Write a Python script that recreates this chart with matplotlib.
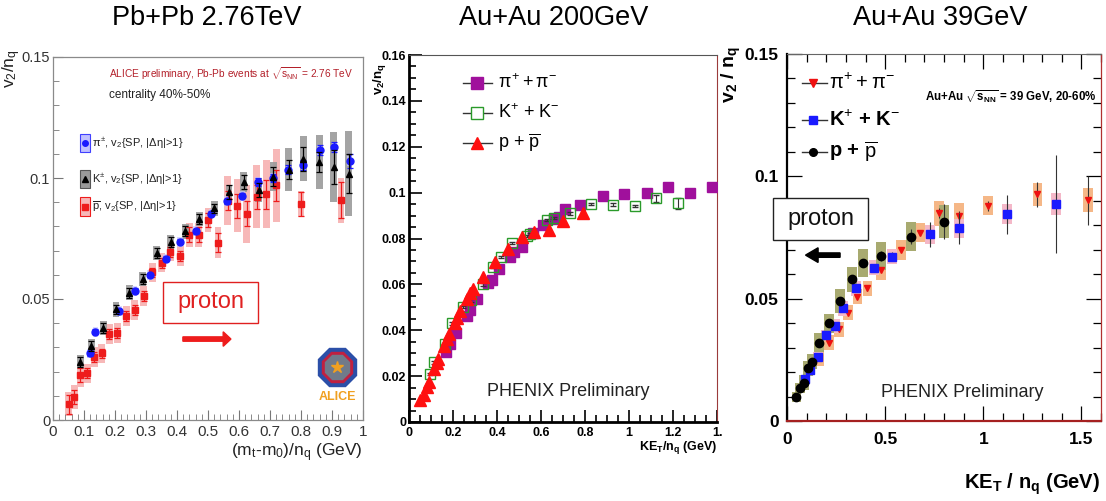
import matplotlib
matplotlib.use("Agg")
import matplotlib.pyplot as plt
from matplotlib.patches import Rectangle, FancyArrow
from matplotlib.ticker import MultipleLocator, FixedLocator, FixedFormatter

plt.rcParams['font.family'] = ['Liberation Sans', 'DejaVu Sans']
plt.rcParams['mathtext.fontset'] = 'custom'
plt.rcParams['mathtext.rm'] = 'Liberation Sans'
plt.rcParams['mathtext.it'] = 'Liberation Sans'
plt.rcParams['mathtext.bf'] = 'Liberation Sans:bold'
NARROW = ['Liberation Sans Narrow', 'Liberation Sans', 'DejaVu Sans']

# ---------------- data: panel 1 (ALICE Pb+Pb 2.76 TeV) ----------------
p1_pi_x = [0.119, 0.137, 0.213, 0.263, 0.3125, 0.363, 0.410, 0.460, 0.511, 0.560,
           0.611, 0.660, 0.709, 0.759, 0.808, 0.860, 0.908, 0.957]
p1_pi_y = [0.0275, 0.0365, 0.045, 0.0534, 0.0599, 0.0667, 0.0736, 0.078, 0.0853, 0.0904,
           0.0926, 0.0984, 0.100, 0.1035, 0.1053, 0.1115, 0.1128, 0.107]
p1_pi_stat = [0.001, 0.001, 0.001, 0.001, 0.001, 0.001, 0.001, 0.001, 0.001, 0.001,
              0.001, 0.0015, 0.0015, 0.002, 0.002, 0.002, 0.002, 0.003]
p1_pi_sys = [0.002] * 18

p1_k_x = [0.088, 0.124, 0.162, 0.203, 0.246, 0.289, 0.334, 0.380, 0.427, 0.472,
          0.520, 0.568, 0.615, 0.664, 0.711, 0.760, 0.808, 0.859, 0.905, 0.954]
p1_k_y = [0.024, 0.0305, 0.038, 0.0457, 0.0526, 0.0583, 0.069, 0.0736, 0.078, 0.083,
          0.0874, 0.0943, 0.0984, 0.095, 0.1005, 0.1035, 0.108, 0.1066, 0.1046, 0.1018]
p1_k_stat = [0.002, 0.002, 0.002, 0.002, 0.002, 0.002, 0.002, 0.002, 0.002, 0.002,
             0.002, 0.003, 0.003, 0.003, 0.004, 0.004, 0.005, 0.004, 0.007, 0.008]
p1_k_sys = [0.003, 0.003, 0.003, 0.003, 0.003, 0.003, 0.003, 0.003, 0.003, 0.003,
            0.003, 0.003, 0.004, 0.005, 0.006, 0.009, 0.0093, 0.011, 0.0145, 0.0175]

p1_p_x = [0.051, 0.069, 0.088, 0.110, 0.133, 0.157, 0.181, 0.207, 0.237, 0.264,
          0.293, 0.320, 0.350, 0.378, 0.410, 0.440, 0.470, 0.500, 0.532, 0.564,
          0.594, 0.625, 0.657, 0.688, 0.720, 0.800, 0.929]
p1_p_y = [0.0065, 0.0096, 0.0186, 0.0193, 0.026, 0.0275, 0.0355, 0.036, 0.043, 0.0454,
          0.0513, 0.061, 0.065, 0.0695, 0.0678, 0.0766, 0.0766, 0.0826, 0.0733, 0.0907,
          0.0885, 0.0853, 0.0922, 0.0933, 0.097, 0.0892, 0.0908]
p1_p_stat = [0.004, 0.003, 0.003, 0.002, 0.002, 0.002, 0.002, 0.002, 0.002, 0.002,
             0.002, 0.002, 0.002, 0.002, 0.002, 0.003, 0.003, 0.003, 0.004, 0.004,
             0.005, 0.005, 0.005, 0.006, 0.0065, 0.005, 0.0075]
p1_p_sys = [0.005, 0.005, 0.005, 0.004, 0.004, 0.004, 0.004, 0.004, 0.004, 0.004,
            0.004, 0.004, 0.004, 0.004, 0.004, 0.005, 0.005, 0.005, 0.0065, 0.010,
            0.011, 0.012, 0.013, 0.014, 0.015, 0.0055, 0.0093]

# ---------------- data: panel 2 (PHENIX Au+Au 200 GeV) ----------------
p2_pi_x = [0.167, 0.186, 0.213, 0.262, 0.277, 0.310, 0.360, 0.376, 0.409, 0.459,
           0.478, 0.513, 0.563, 0.608, 0.657, 0.680, 0.710, 0.779, 0.881, 0.979,
           1.080, 1.179, 1.277, 1.375]
p2_pi_y = [0.0305, 0.034, 0.039, 0.046, 0.049, 0.0538, 0.0604, 0.062, 0.0665, 0.072,
           0.0739, 0.0764, 0.0822, 0.0858, 0.0884, 0.0895, 0.093, 0.0944, 0.0985, 0.0996,
           0.100, 0.1025, 0.100, 0.1025]

p2_k_x = [0.094, 0.115, 0.165, 0.195, 0.246, 0.280, 0.338, 0.383, 0.420, 0.470,
          0.535, 0.550, 0.627, 0.660, 0.733, 0.827, 0.925, 1.025, 1.122, 1.223]
p2_k_y = [0.021, 0.026, 0.034, 0.043, 0.050, 0.053, 0.060, 0.0676, 0.072, 0.078,
          0.081, 0.082, 0.088, 0.089, 0.0909, 0.095, 0.0948, 0.0942, 0.0975, 0.0953]
p2_k_err = [0.0005] * 18 + [0.0015, 0.0025]

p2_p_x = [0.049, 0.067, 0.082, 0.091, 0.113, 0.125, 0.134, 0.158, 0.173, 0.183,
          0.208, 0.219, 0.234, 0.262, 0.277, 0.289, 0.335, 0.390, 0.449, 0.513,
          0.570, 0.637, 0.700, 0.790]
p2_p_y = [0.0095, 0.0116, 0.0153, 0.0175, 0.0233, 0.0257, 0.0276, 0.033, 0.0364, 0.0385,
          0.043, 0.0455, 0.0484, 0.0538, 0.0564, 0.0582, 0.0633, 0.0698, 0.0756, 0.0807,
          0.083, 0.0836, 0.0876, 0.0913]

# ---------------- data: panel 3 (PHENIX Au+Au 39 GeV) ----------------
p3_pi_x = [0.163, 0.214, 0.264, 0.310, 0.359, 0.410, 0.481, 0.580, 0.677, 0.776,
           0.876, 1.026, 1.276, 1.532]
p3_pi_y = [0.0256, 0.032, 0.0375, 0.0443, 0.0508, 0.0542, 0.0617, 0.0699, 0.077, 0.0849,
           0.0839, 0.088, 0.0926, 0.0903]
p3_pi_stat = [0.001, 0.001, 0.001, 0.001, 0.001, 0.001, 0.001, 0.001, 0.001, 0.002,
              0.002, 0.002, 0.005, 0.010]
p3_pi_sys = [0.003, 0.003, 0.003, 0.003, 0.003, 0.003, 0.004, 0.004, 0.004, 0.005,
             0.005, 0.004, 0.0048, 0.0048]

p3_k_x = [0.090, 0.119, 0.158, 0.200, 0.245, 0.287, 0.350, 0.442, 0.537, 0.728,
          0.876, 1.119, 1.371]
p3_k_y = [0.017, 0.0208, 0.0263, 0.0351, 0.0388, 0.046, 0.0542, 0.0627, 0.0672, 0.0763,
          0.0787, 0.0845, 0.0886]
p3_k_stat = [0.001, 0.001, 0.001, 0.001, 0.001, 0.001, 0.001, 0.001, 0.002, 0.005,
             0.0065, 0.008, 0.020]
p3_k_sys = [0.002, 0.002, 0.002, 0.002, 0.003, 0.003, 0.003, 0.003, 0.003, 0.004,
            0.004, 0.004, 0.0045]

p3_p_x = [0.048, 0.065, 0.085, 0.107, 0.129, 0.163, 0.214, 0.270, 0.330, 0.388,
          0.481, 0.631, 0.798]
p3_p_y = [0.0099, 0.0134, 0.0157, 0.0215, 0.0243, 0.032, 0.0399, 0.049, 0.0579, 0.0644,
          0.0674, 0.0753, 0.0815]
p3_p_stat = [0.001, 0.001, 0.001, 0.001, 0.001, 0.001, 0.001, 0.001, 0.001, 0.001,
             0.002, 0.003, 0.007]
p3_p_sys = [0.002, 0.002, 0.003, 0.003, 0.003, 0.004, 0.004, 0.005, 0.005, 0.0057,
            0.0057, 0.006, 0.0068]

titles = ["Pb+Pb 2.76TeV", "Au+Au 200GeV", "Au+Au 39GeV"]

W, H = 1106, 501
fig = plt.figure(figsize=(W / 100, H / 100), dpi=100)
fig.patch.set_facecolor('white')


def ax_px(x0, y0, x1, y1):
    return fig.add_axes([x0 / W, 1 - y1 / H, (x1 - x0) / W, (y1 - y0) / H])


def sysboxes(ax, x, y, s, w, color, ec='none', z=1, alpha=1.0):
    ax.bar(x, [2 * v for v in s], bottom=[a - b for a, b in zip(y, s)], width=w,
           color=color, edgecolor=ec, linewidth=0.6, zorder=z, alpha=alpha)


# titles
fig.text(207 / W, 1 - 18 / H, titles[0], ha='center', va='center', fontsize=19.5)
fig.text(554 / W, 1 - 18 / H, titles[1], ha='center', va='center', fontsize=19.5)
fig.text(940 / W, 1 - 18 / H, titles[2], ha='center', va='center', fontsize=19.5)

# ======================= Panel 1 =======================
ax1 = ax_px(53, 57, 363, 420)
ax1.set_xlim(0, 1)
ax1.set_ylim(0, 0.15)
for sp in ax1.spines.values():
    sp.set_color('#8a8a8a')
    sp.set_linewidth(0.9)
ax1.xaxis.set_major_locator(MultipleLocator(0.1))
ax1.xaxis.set_minor_locator(MultipleLocator(0.02))
ax1.yaxis.set_major_locator(FixedLocator([0, 0.05, 0.1, 0.15]))
ax1.yaxis.set_major_formatter(FixedFormatter(['0', '0.05', '0.1', '0.15']))
ax1.yaxis.set_minor_locator(MultipleLocator(0.01))
ax1.xaxis.set_major_formatter(plt.FuncFormatter(lambda v, p: '%g' % round(v, 2)))
ax1.tick_params(which='both', direction='in', colors='#777777', labelcolor='#333333',
                labelsize=11, top=False, right=False)
ax1.tick_params(axis='y', labelsize=10.5, pad=2)
ax1.tick_params(which='major', length=7)
ax1.tick_params(which='minor', length=4)
for lab in ax1.get_xticklabels() + ax1.get_yticklabels():
    lab.set_family(NARROW)

sysboxes(ax1, p1_p_x, p1_p_y, p1_p_sys, 0.022, '#f7b8b8', z=1)
sysboxes(ax1, p1_k_x, p1_k_y, p1_k_sys, 0.022, '#9a9a9a', z=1.5, alpha=0.9)
sysboxes(ax1, p1_pi_x, p1_pi_y, p1_pi_sys, 0.018, '#c8c8ff', z=1.6, alpha=0.7)
ax1.errorbar(p1_p_x, p1_p_y, yerr=p1_p_stat, fmt='s', color='#ee1c1c', ms=5,
             elinewidth=0.9, capsize=2, capthick=0.9, zorder=3)
ax1.errorbar(p1_k_x, p1_k_y, yerr=p1_k_stat, fmt='^', color='black', ms=4,
             elinewidth=0.9, capsize=2, capthick=0.9, zorder=4)
ax1.errorbar(p1_pi_x, p1_pi_y, yerr=p1_pi_stat, fmt='o', color='#1a1aff', ms=5,
             elinewidth=0.9, capsize=2, capthick=0.9, zorder=3.5)

# legend (ALICE style)
leg1 = [(0.763, '#c0c0ff', '#4040ff', 'o', '#1a1aff', r'$\pi^{\pm}$, v$_2${SP, |$\Delta\eta$|>1}'),
        (0.664, '#9a9a9a', '#555555', '^', 'black', r'K$^{\pm}$, v$_2${SP, |$\Delta\eta$|>1}'),
        (0.587, '#f7b8b8', '#ee1c1c', 's', '#ee1c1c', r'$\overline{\rm p}$, v$_2${SP, |$\Delta\eta$|>1}')]
for yy, fc, ec, mk, mc, lab in leg1:
    ax1.add_patch(Rectangle((0.088, yy - 0.026), 0.03, 0.052, transform=ax1.transAxes,
                            facecolor=fc, edgecolor=ec, linewidth=0.8, zorder=5))
    ax1.plot([0.103], [yy], marker=mk, color=mc, ms=4, transform=ax1.transAxes, zorder=6)
    ax1.text(0.126, yy, lab, transform=ax1.transAxes, fontsize=8, va='center',
             family=NARROW, color='#222222')

ax1.text(0.18, 0.955, r'ALICE preliminary, Pb-Pb events at $\sqrt{s_{\rm NN}}$ = 2.76 TeV',
         transform=ax1.transAxes, fontsize=7.3, color='#b3202a', va='center', family=NARROW)
ax1.text(0.18, 0.895, 'centrality 40%-50%', transform=ax1.transAxes, fontsize=8.5,
         color='#222222', va='center', family=NARROW)

# proton box + arrow
ax1.add_patch(Rectangle((0.355, 0.267), 0.306, 0.113, transform=ax1.transAxes,
                        facecolor='white', edgecolor='#e02020', linewidth=1.0, zorder=6))
ax1.text(0.508, 0.324, 'proton', transform=ax1.transAxes, fontsize=17, color='#e02020',
         ha='center', va='center', zorder=7)
ax1.add_patch(FancyArrow(0.419, 0.223, 0.13, 0, width=0.012, head_width=0.04,
                         head_length=0.025, transform=ax1.transAxes, color='#ee1c1c',
                         length_includes_head=False, zorder=7))

# ALICE logo (simplified)
ax1.plot([0.916], [0.146], marker='8', ms=30, color='#2b4fa8', transform=ax1.transAxes, zorder=6)
ax1.plot([0.916], [0.146], marker='8', ms=24, color='#c02040', transform=ax1.transAxes, zorder=6.1)
ax1.plot([0.916], [0.146], marker='8', ms=19, color='#707a8a', transform=ax1.transAxes, zorder=6.2)
ax1.plot([0.916], [0.146], marker='*', ms=9, color='#f0a020', transform=ax1.transAxes, zorder=6.3)
ax1.text(0.916, 0.062, 'ALICE', transform=ax1.transAxes, fontsize=9, fontweight='bold',
         color='#f0a020', ha='center', va='center', zorder=7)

fig.text(12 / W, 1 - 49 / H, r'v$_2$/n$_{\rm q}$', rotation=90, ha='center', va='top',
         fontsize=12.5, color='#222222')
fig.text(363 / W, 1 - 453 / H, r'(m$_{\rm t}$-m$_0$)/n$_{\rm q}$ (GeV)', ha='right', va='center',
         fontsize=12.5, color='#222222', family=NARROW)

# ======================= Panel 2 =======================
ax2 = ax_px(409, 55, 717, 422)
ax2.set_xlim(0, 1.4)
ax2.set_ylim(0, 0.16)
ax2.spines['left'].set_linewidth(2)
ax2.spines['bottom'].set_linewidth(2)
ax2.spines['top'].set_color('#555555')
ax2.spines['top'].set_linewidth(0.8)
ax2.spines['right'].set_color('#9b3b3b')
ax2.spines['right'].set_linewidth(0.8)
ax2.xaxis.set_major_locator(FixedLocator([0, 0.2, 0.4, 0.6, 0.8, 1.0, 1.2, 1.4]))
ax2.xaxis.set_major_formatter(FixedFormatter(['0', '0.2', '0.4', '0.6', '0.8', '1', '1.2', '1.']))
ax2.xaxis.set_minor_locator(MultipleLocator(0.05))
ax2.yaxis.set_major_locator(MultipleLocator(0.02))
ax2.yaxis.set_major_formatter(plt.FuncFormatter(lambda v, p: '%g' % round(v, 3)))
ax2.yaxis.set_minor_locator(MultipleLocator(0.005))
ax2.tick_params(which='both', direction='in', top=False, right=False, labelsize=9, width=1.2)
ax2.tick_params(which='major', length=9)
ax2.tick_params(which='minor', length=5)
ax2.tick_params(axis='y', pad=2)
for lab in ax2.get_xticklabels() + ax2.get_yticklabels():
    lab.set_family(NARROW)
    lab.set_fontweight('bold')

ax2.plot(p2_pi_x, p2_pi_y, 's', color='#a0109c', ms=6.5, zorder=3, linestyle='none')
ax2.errorbar(p2_k_x, p2_k_y, yerr=p2_k_err, fmt='s', mfc='none', mec='#2a9a2a', ecolor='#333333',
             ms=6.5, mew=1.0, elinewidth=0.8, capsize=2, zorder=3)
ax2.plot(p2_p_x, p2_p_y, '^', color='#ff1010', ms=8, zorder=4, linestyle='none')

leg2 = [(0.924, 's', dict(color='#a0109c'), r'$\pi^{+}+\pi^{-}$'),
        (0.842, 's', dict(mfc='white', mec='#2a9a2a', mew=1.0), r'K$^{+}$ + K$^{-}$'),
        (0.760, '^', dict(color='#ff1010'), r'p + $\overline{\rm p}$')]
for yy, mk, kw, lab in leg2:
    ax2.plot([0.175, 0.269], [yy, yy], color='#333333', lw=1.0, transform=ax2.transAxes, zorder=5)
    ax2.plot([0.221], [yy], marker=mk, ms=8, transform=ax2.transAxes, zorder=6, linestyle='none', **kw)
    ax2.text(0.29, yy, lab, transform=ax2.transAxes, fontsize=13, va='center', family=NARROW)

ax2.text(0.516, 0.082, 'PHENIX Preliminary', transform=ax2.transAxes, fontsize=13,
         ha='center', va='center', color='#222222')
fig.text(380 / W, 1 - 63 / H, r'$\mathbf{v_2/n_q}$', rotation=90, ha='center', va='top',
         fontsize=9.5, fontweight='bold')
fig.text(717 / W, 1 - 448 / H, r'$\mathbf{KE_T/n_q}$ (GeV)', ha='right', va='center',
         fontsize=9, fontweight='bold', family=NARROW)

# ======================= Panel 3 =======================
ax3 = ax_px(787, 54, 1101, 421)
ax3.set_xlim(0, 1.6)
ax3.set_ylim(0, 0.15)
ax3.spines['left'].set_linewidth(1.6)
ax3.spines['bottom'].set_color('#a52020')
ax3.spines['bottom'].set_linewidth(1.6)
ax3.spines['right'].set_color('#b03030')
ax3.spines['right'].set_linewidth(0.9)
ax3.spines['top'].set_color('#666666')
ax3.spines['top'].set_linewidth(0.8)
ax3.xaxis.set_major_locator(FixedLocator([0, 0.5, 1.0, 1.5]))
ax3.xaxis.set_major_formatter(FixedFormatter(['0', '0.5', '1', '1.5']))
ax3.xaxis.set_minor_locator(MultipleLocator(0.1))
ax3.yaxis.set_major_locator(FixedLocator([0, 0.05, 0.1, 0.15]))
ax3.yaxis.set_major_formatter(FixedFormatter(['0', '0.05', '0.1', '0.15']))
ax3.yaxis.set_minor_locator(MultipleLocator(0.01))
ax3.tick_params(which='both', direction='in', top=True, right=True, labelsize=12.5, width=0.9)
ax3.tick_params(which='major', length=11)
ax3.tick_params(which='minor', length=6)
ax3.tick_params(axis='y', pad=6)
ax3.tick_params(axis='x', pad=8)
for lab in ax3.get_xticklabels() + ax3.get_yticklabels():
    lab.set_family(NARROW)
    lab.set_fontweight('bold')

sysboxes(ax3, p3_pi_x, p3_pi_y, p3_pi_sys, 0.05, '#f5b787', z=1)
sysboxes(ax3, p3_k_x, p3_k_y, p3_k_sys, 0.05, '#f4b8c8', z=1.2)
sysboxes(ax3, p3_p_x, p3_p_y, p3_p_sys, 0.05, '#a8aa70', z=1.4)
ax3.errorbar(p3_pi_x, p3_pi_y, yerr=p3_pi_stat, fmt='v', color='#ee1010', ecolor='#333333',
             ms=5, elinewidth=0.8, zorder=3)
ax3.errorbar(p3_k_x, p3_k_y, yerr=p3_k_stat, fmt='s', color='#1a1aff', ecolor='#333333',
             ms=6, elinewidth=0.8, zorder=3.5)
ax3.errorbar(p3_p_x, p3_p_y, yerr=p3_p_stat, fmt='o', color='black', ecolor='#333333',
             ms=6, elinewidth=0.8, zorder=4)

leg3 = [(0.921, 'v', '#ee1010', 6, r'$\pi^{+}+\pi^{-}$'),
        (0.820, 's', '#1a1aff', 6, r'K$^{+}$ + K$^{-}$'),
        (0.733, 'o', 'black', 5.5, r'p + $\overline{\rm p}$')]
for yy, mk, mc, ms, lab in leg3:
    ax3.plot([0.048, 0.127], [yy, yy], color='#333333', lw=1.0, transform=ax3.transAxes, zorder=5)
    ax3.plot([0.083], [yy], marker=mk, color=mc, ms=ms, transform=ax3.transAxes, zorder=6)
    ax3.text(0.135, yy, lab, transform=ax3.transAxes, fontsize=14.5, va='center',
             family=NARROW, fontweight='bold')

ax3.text(0.44, 0.883, r'Au+Au $\sqrt{\mathbf{s_{NN}}}$ = 39 GeV, 20-60%', transform=ax3.transAxes,
         fontsize=8.3, fontweight='bold', va='center', family=NARROW)

ax3.add_patch(Rectangle((-0.045, 0.493), 0.303, 0.114, transform=ax3.transAxes,
                        facecolor='white', edgecolor='#222222', linewidth=1.0, zorder=6,
                        clip_on=False))
ax3.text(0.107, 0.550, 'proton', transform=ax3.transAxes, fontsize=17, color='#111111',
         ha='center', va='center', zorder=7)
ax3.add_patch(FancyArrow(0.169, 0.452, -0.11, 0, width=0.012, head_width=0.04,
                         head_length=0.04, transform=ax3.transAxes, color='black',
                         length_includes_head=True, zorder=7))

ax3.text(0.557, 0.079, 'PHENIX Preliminary', transform=ax3.transAxes, fontsize=13,
         ha='center', va='center', color='#222222')
fig.text(731 / W, 1 - 46 / H, r'$\mathbf{v_2\ /\ n_q}$', rotation=90, ha='center', va='top',
         fontsize=14, fontweight='bold')
fig.text(1100 / W, 1 - 484 / H, r'$\mathbf{KE_T\ /\ n_q}$ (GeV)', ha='right', va='center',
         fontsize=14.5, fontweight='bold', family=NARROW)

fig.savefig('out.png', dpi=100, facecolor='white')
